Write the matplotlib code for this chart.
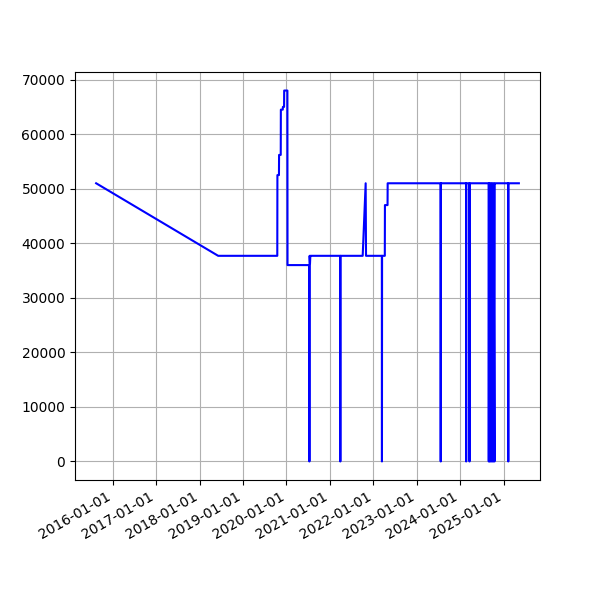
import matplotlib
matplotlib.use("Agg")
import matplotlib.pyplot as plt
import matplotlib.dates as mdates
import pandas as pd

dates = [
    "2015-08-15", "2018-06-06", "2019-10-16", "2019-10-17", "2019-10-30",
    "2019-10-31", "2019-11-14", "2019-11-15", "2019-12-01", "2019-12-02",
    "2019-12-12", "2019-12-13", "2020-01-09", "2020-01-10",
    "2020-07-10", "2020-07-12", "2020-07-14", "2020-07-17", "2020-07-20",
    "2020-07-23", "2021-03-28", "2021-03-29", "2021-03-30", "2021-10-03",
    "2021-10-28", "2021-10-31", "2022-03-13", "2022-03-14", "2022-03-15",
    "2022-04-07", "2022-04-08", "2022-04-30", "2022-05-01",
    "2023-07-20", "2023-07-21", "2023-07-22",
    "2024-02-19", "2024-02-20", "2024-02-21", "2024-03-18", "2024-03-19",
    "2024-03-20", "2024-08-27", "2024-08-28", "2024-08-30", "2024-09-05",
    "2024-09-07", "2024-09-15", "2024-09-17", "2024-09-25", "2024-09-27",
    "2024-10-05", "2024-10-07", "2024-10-15", "2024-10-17", "2024-10-18",
    "2025-02-07", "2025-02-08", "2025-02-09", "2025-05-08",
]
values = [
    51000, 37700, 37700, 52500, 52500,
    56200, 56200, 64500, 64500, 65000,
    65000, 68000, 68000, 36000,
    36000, 0, 37700, 36300, 37700,
    37700, 37700, 0, 37700, 37700,
    51000, 37700, 37700, 0, 37700,
    37700, 47000, 47000, 51000,
    51000, 0, 51000,
    51000, 0, 51000, 51000, 0,
    51000, 51000, 0, 51000, 0,
    51000, 0, 51000, 0, 51000,
    0, 51000, 0, 51000, 51000,
    51000, 0, 51000, 51000,
]

x = pd.to_datetime(dates)

fig, ax = plt.subplots(figsize=(6, 6), dpi=100)
ax.plot(x, values, color="blue")
ax.xaxis.set_major_locator(mdates.YearLocator())
ax.xaxis.set_major_formatter(mdates.DateFormatter("%Y-%m-%d"))
ax.grid(True)
fig.autofmt_xdate()

fig.savefig("out.png")
